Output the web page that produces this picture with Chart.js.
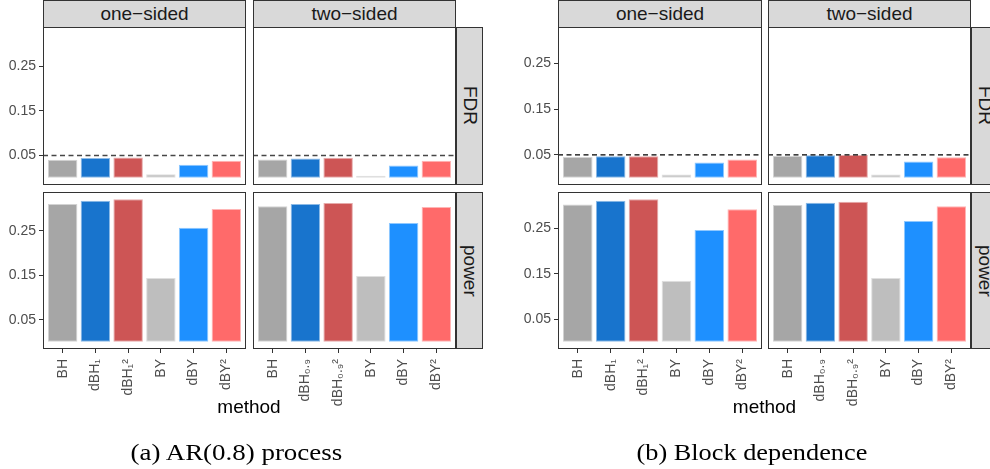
<!DOCTYPE html>
<html><head><meta charset="utf-8">
<script src="https://cdn.jsdelivr.net/npm/chart.js@4.4.1/dist/chart.umd.min.js"></script>
<style>
html,body{margin:0;padding:0;background:#fff;}
body{width:990px;height:469px;position:relative;overflow:hidden;font-family:"Liberation Sans","DejaVu Sans",Arial,sans-serif;}
.box{position:absolute;}
.strip{position:absolute;background:#D9D9D9;border:1px solid #333;box-sizing:border-box;display:flex;align-items:center;justify-content:center;color:#1A1A1A;font-size:19px;white-space:nowrap;overflow:hidden;}
.strip.v span{writing-mode:vertical-rl;}
.title{position:absolute;font-size:19px;color:#000;transform:translate(-50%,-50%);white-space:nowrap;}
.cap{position:absolute;font-family:"Liberation Serif","DejaVu Serif",serif;font-size:23px;color:#000;white-space:nowrap;transform-origin:50% 50%;}
</style></head><body>
<script>
// ---------------- data ----------------
const methods = ['BH','dBH','dBH2','BY','dBY','dBY2'];
const tickLabelsOneSided = ['BH','dBH\u2081','dBH\u2081\u00B2','BY','dBY','dBY\u00B2'];
const tickLabelsTwoSided = ['BH','dBH\u2080.\u2089','dBH\u2080.\u2089\u00B2','BY','dBY','dBY\u00B2'];
const sides = ['one\u2212sided','two\u2212sided'];
const metrics = ['FDR','power'];
const yTickValues = [0.05, 0.15, 0.25];
const yTickLabels = ['0.05','0.15','0.25'];
const fdrLevel = 0.05;
const xTitle = 'method';
const captions = ['(a) AR(0.8) process','(b) Block dependence'];

// (a) AR(0.8) process
const arFdrOne   = [0.0404, 0.0442, 0.0455, 0.0080, 0.0295, 0.0381];
const arFdrTwo   = [0.0410, 0.0433, 0.0449, 0.0046, 0.0277, 0.0380];
const arPowerOne = [0.3107, 0.3180, 0.3218, 0.1440, 0.2574, 0.2996];
const arPowerTwo = [0.3060, 0.3107, 0.3130, 0.1484, 0.2678, 0.3040];
// (b) Block dependence
const blockFdrOne   = [0.0457, 0.0470, 0.0470, 0.0072, 0.0333, 0.0398];
const blockFdrTwo   = [0.0478, 0.0491, 0.0500, 0.0072, 0.0354, 0.0448];
const blockPowerOne = [0.3020, 0.3106, 0.3140, 0.1344, 0.2463, 0.2918];
const blockPowerTwo = [0.3011, 0.3063, 0.3084, 0.1403, 0.2658, 0.2983];

// ---------------- styles / layout ----------------
const barColors = ['#A6A6A6','#1874CD','#CD5555','#BEBEBE','#1E90FF','#FF6A6A'];
function lighten(hex, t){
  const n = parseInt(hex.slice(1),16);
  const r=(n>>16)&255,g=(n>>8)&255,b=n&255;
  const f=c=>Math.round(c+(255-c)*t);
  return 'rgb('+f(r)+','+f(g)+','+f(b)+')';
}
const barBorders = barColors.map(c=>lighten(c,0.5));

const ROWS = [[27,185],[192,349]];
const X_AXIS_H = 60;
const FIGS = [
  {x0:0,   cols:[[43,246],[253,456]], stripW:27, titleCx:249,   capCx:236, capW:212, lineColor:'rgba(0,0,0,0.72)', lineW:1.4,
   values:[[arFdrOne,arFdrTwo],[arPowerOne,arPowerTwo]]},
  {x0:495, cols:[[558,762],[768,971]], stripW:28, titleCx:764.5, capCx:752, capW:231, lineColor:'#000', lineW:1.2,
   values:[[blockFdrOne,blockFdrTwo],[blockPowerOne,blockPowerTwo]]}
];
const colLabels = [tickLabelsOneSided, tickLabelsTwoSided];

Chart.defaults.font.family = '"Liberation Sans","DejaVu Sans",Arial,sans-serif';

const deco = {
  id:'panelDeco',
  afterDatasetsDraw(chart, args, opts){
    const {ctx, chartArea:a, scales} = chart;
    ctx.save();
    if (opts.line){
      const y = scales.y.getPixelForValue(fdrLevel);
      ctx.strokeStyle = opts.lineColor; ctx.lineWidth = opts.lineW;
      ctx.setLineDash([5,3.5]);
      ctx.beginPath(); ctx.moveTo(a.left, y); ctx.lineTo(a.right, y); ctx.stroke();
    }
    ctx.setLineDash([]);
    ctx.strokeStyle = '#333'; ctx.lineWidth = 1;
    ctx.strokeRect(a.left+0.5, a.top+0.5, a.width-1, a.height-1);
    ctx.restore();
  }
};

function addDiv(cls, left, top, w, h, html){
  const d = document.createElement('div');
  d.className = cls;
  d.style.left = left+'px'; d.style.top = top+'px';
  if (w!=null) d.style.width = w+'px';
  if (h!=null) d.style.height = h+'px';
  if (html!=null) d.innerHTML = html;
  document.body.appendChild(d);
  return d;
}

function makePanel(fig, r, c){
  const [cl, cr] = fig.cols[c];
  const [rt, rb] = ROWS[r];
  const showY = c===0, showX = r===1;
  const left = showY ? fig.x0 : cl;
  const yW = showY ? cl - fig.x0 : 0;
  const xH = showX ? X_AXIS_H : 0;
  const w = cr - left, h = (rb - rt) + xH;
  const div = addDiv('box', left, rt, w, h);
  const cv = document.createElement('canvas');
  cv.width = w; cv.height = h; cv.style.width = w+'px'; cv.style.height = h+'px';
  div.appendChild(cv);
  const vals = fig.values[r][c];
  const allVals = fig.values.flat(2);
  const yMax = Math.max(...allVals);
  const labels = colLabels[c];
  new Chart(cv, {
    type:'bar',
    data:{datasets:[{
      data: vals.map((v,i)=>({x:i+1, y:v})),
      backgroundColor: barColors, borderColor: barBorders,
      borderWidth:1, borderSkipped:false,
      barPercentage:0.9, categoryPercentage:1
    }]},
    options:{
      responsive:false, animation:false, events:[],
      layout:{padding:0, autoPadding:false},
      plugins:{legend:{display:false}, tooltip:{enabled:false},
        panelDeco:{line: r===0, lineColor: fig.lineColor, lineW: fig.lineW}},
      scales:{
        x:{type:'linear', min:0.4, max:6.6, bounds:'data', offset:false, display:showX,
          afterBuildTicks: s => { s.ticks = labels.map((_,i)=>({value:i+1})); },
          ticks:{autoSkip:false, minRotation:90, maxRotation:90, padding:6, color:'#4D4D4D',
            font:{size:14}, callback:(v)=>labels[Math.round(v)-1]},
          grid:{display:true, offset:false, drawOnChartArea:false, drawTicks:true, tickLength:4, color:'#333', lineWidth:1},
          border:{display:false},
          afterFit: s => { s.height = xH; s.paddingLeft = 0; s.paddingRight = 0; }
        },
        y:{type:'linear', min:-0.05*yMax, max:1.05*yMax, display:showY,
          afterBuildTicks: s => { s.ticks = yTickValues.map(v=>({value:v})); },
          ticks:{padding:3, color:'#4D4D4D', font:{size:14},
            callback:(v)=>yTickLabels[yTickValues.findIndex(t=>Math.abs(t-v)<1e-9)]},
          grid:{display:true, offset:false, drawOnChartArea:false, drawTicks:true, tickLength:4, color:'#333', lineWidth:1},
          border:{display:false},
          afterFit: s => { s.width = yW; s.paddingTop = 0; s.paddingBottom = 0; }
        }
      }
    },
    plugins:[deco]
  });
}

FIGS.forEach((fig, fi) => {
  fig.cols.forEach(([cl,cr], c) => {
    addDiv('strip', cl, 0, cr-cl, ROWS[0][0]+1, '<span>'+sides[c]+'</span>');
  });
  const sx = fig.cols[1][1];
  ROWS.forEach(([rt,rb], r) => {
    addDiv('strip v', sx, rt, fig.stripW, rb-rt, '<span>'+metrics[r]+'</span>');
  });
  for (let r=0;r<2;r++) for (let c=0;c<2;c++) makePanel(fig, r, c);
  addDiv('title', fig.titleCx, 406.5, null, null, xTitle);
  const cap = addDiv('cap', 0, 0, null, null, captions[fi]);
  const wNat = cap.offsetWidth, hNat = cap.offsetHeight;
  const k = fig.capW / wNat;
  cap.style.left = (fig.capCx - wNat/2)+'px';
  cap.style.top = (453 - hNat/2)+'px';
  cap.style.transform = 'scaleX('+k.toFixed(3)+')';
});
</script>
</body></html>
